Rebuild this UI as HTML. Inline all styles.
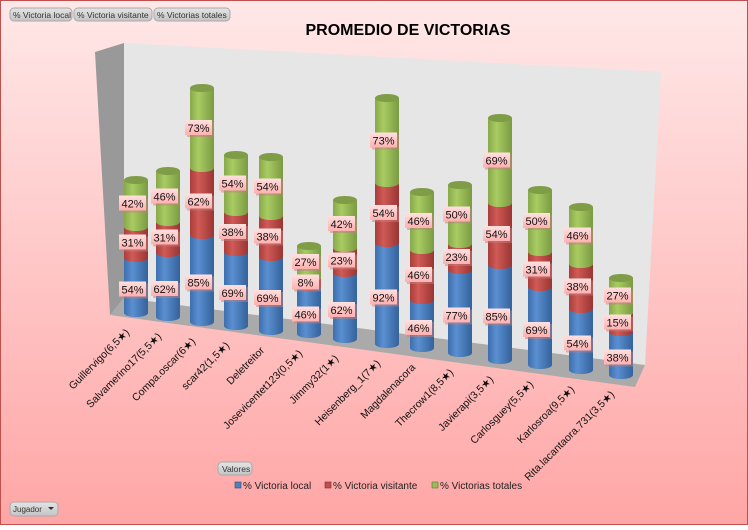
<!DOCTYPE html>
<html><head><meta charset="utf-8"><style>
body{margin:0;width:748px;height:525px;overflow:hidden;font-family:"Liberation Sans",sans-serif}
</style></head><body>
<svg width="748" height="525" xmlns="http://www.w3.org/2000/svg" font-family="Liberation Sans, sans-serif">
<defs>
<linearGradient id="bg" x1="0" y1="0" x2="0" y2="1"><stop offset="0" stop-color="#ffe8e8"/><stop offset="1" stop-color="#ffa6a6"/></linearGradient>
<linearGradient id="bb" x1="0" x2="1"><stop offset="0" stop-color="#3d6fae"/><stop offset=".35" stop-color="#5a8fd0"/><stop offset="1" stop-color="#34629c"/></linearGradient>
<linearGradient id="rr" x1="0" x2="1"><stop offset="0" stop-color="#a93d3a"/><stop offset=".35" stop-color="#d05a56"/><stop offset="1" stop-color="#9a3532"/></linearGradient>
<linearGradient id="gg" x1="0" x2="1"><stop offset="0" stop-color="#88a84a"/><stop offset=".35" stop-color="#a8cc62"/><stop offset="1" stop-color="#7b9a42"/></linearGradient>
<linearGradient id="lb" x1="0" y1="0" x2="0" y2="1"><stop offset="0" stop-color="#ffe0e0"/><stop offset="1" stop-color="#ffb0b0"/></linearGradient>
<linearGradient id="btn" x1="0" y1="0" x2="0" y2="1"><stop offset="0" stop-color="#e4e4e4"/><stop offset="1" stop-color="#c4c4c4"/></linearGradient>
</defs>
<rect x="0.5" y="0.5" width="747" height="524" fill="url(#bg)" stroke="#c0504d"/>
<!-- buttons -->
<g font-size="8.5" fill="#333">
<rect x="10" y="8" width="62" height="13" rx="4" fill="url(#btn)" stroke="#aaa"/><text x="13" y="18">% Victoria local</text>
<rect x="74" y="8" width="78" height="13" rx="4" fill="url(#btn)" stroke="#aaa"/><text x="77" y="18">% Victoria visitante</text>
<rect x="154" y="8" width="76" height="13" rx="4" fill="url(#btn)" stroke="#aaa"/><text x="157" y="18">% Victorias totales</text>
</g>
<text x="408" y="35" font-size="16" font-weight="bold" text-anchor="middle" fill="#000">PROMEDIO DE VICTORIAS</text>
<!-- walls -->
<polygon points="95,52 124,43 124,298 110,315" fill="#999"/>
<polygon points="124,43 661,72 645,365 124,298" fill="#e6e6e6"/>
<polygon points="110,315 124,298 645,365 635,387" fill="#aaa"/>
<g id="bars"></g>
<!-- legend -->
<rect x="218" y="462" width="34" height="13" rx="4" fill="url(#btn)" stroke="#aaa"/><text x="222" y="472" font-size="8.5" fill="#333">Valores</text>
<g font-size="10" fill="#222">
<rect x="235" y="482" width="6" height="6" fill="#4f81bd" stroke="#2c4d75" stroke-width=".6"/><text x="243" y="489">% Victoria local</text>
<rect x="325" y="482" width="6" height="6" fill="#c0504d" stroke="#7a2e2c" stroke-width=".6"/><text x="333" y="489">% Victoria visitante</text>
<rect x="432" y="482" width="6" height="6" fill="#9bbb59" stroke="#5c7232" stroke-width=".6"/><text x="440" y="489">% Victorias totales</text>
</g>
<rect x="10" y="502" width="48" height="14" rx="4" fill="url(#btn)" stroke="#aaa"/><text x="13" y="512" font-size="8" fill="#333">Jugador</text>
<polygon points="48,507 54,507 51,510" fill="#333"/>
</svg>
<script>
var d=[
["Guillervigo(6,5★)",136,313,258,227,180,"54%","31%","42%"],
["Salvamerino17(5,5★)",168,317,253,222,171,"62%","31%","46%"],
["Compa.oscar(6★)",202,322,235,168,88,"85%","62%","73%"],
["scar42(1,5★)",236,326,252,212,155,"69%","38%","54%"],
["Deletreitor",271,331,257,216,157,"69%","38%","54%"],
["Josevicentet123(0,5★)",309,334,287,278,246,"46%","8%","27%"],
["Jimmy32(1★)",345,339,273,248,200,"62%","23%","42%"],
["Heisenberg_1(7★)",387,344,243,183,98,"92%","54%","73%"],
["Magdalenacora",422,348,300,250,192,"46%","46%","46%"],
["Thecrow1(8,5★)",460,353,270,244,185,"77%","23%","50%"],
["Javierapi(3,5★)",500,360,265,203,118,"85%","54%","69%"],
["Carlosguey(5,5★)",540,365,287,252,190,"69%","31%","50%"],
["Karlosroa(9,5★)",581,370,309,264,207,"54%","38%","46%"],
["Rita.lacantaora.731(3,5★)",621,375,332,313,278,"38%","15%","27%"]];
var ns="http://www.w3.org/2000/svg",g=document.getElementById("bars"),s="",rx=12,ry=4;
function seg(x,y0,y1,f,top){var r='<rect x="'+(x-rx)+'" y="'+y1+'" width="'+(2*rx)+'" height="'+(y0-y1)+'" fill="url(#'+f+')"/>'+
'<ellipse cx="'+x+'" cy="'+y0+'" rx="'+rx+'" ry="'+ry+'" fill="url(#'+f+')"/>';
if(top)r+='<ellipse cx="'+x+'" cy="'+y1+'" rx="'+rx+'" ry="'+ry+'" fill="#7f9c46"/>';return r;}
function lab(x,y,t){return '<rect x="'+(x-17)+'" y="'+(y-8)+'" width="27" height="15" fill="#c08080" opacity=".5" transform="translate(2,2)"/><rect x="'+(x-17)+'" y="'+(y-8)+'" width="27" height="15" fill="url(#lb)"/><text x="'+(x-3.5)+'" y="'+(y+4)+'" font-size="11" text-anchor="middle" fill="#111">'+t+'</text>';}
d.forEach(function(b){var x=b[1];
s+=seg(x,b[2],b[3],"bb")+seg(x,b[3],b[4],"rr")+seg(x,b[4],b[5],"gg",1);});
d.forEach(function(b){var x=b[1];
s+=lab(x,(b[2]+b[3])/2+4,b[6])+lab(x,(b[3]+b[4])/2,b[7])+lab(x,(b[4]+b[5])/2,b[8]);
var tx=x-6,ty=b[2]+20;
s+='<text x="'+tx+'" y="'+ty+'" font-size="10.5" text-anchor="end" fill="#111" transform="rotate(-45 '+tx+' '+ty+')">'+b[0]+'</text>';});
g.innerHTML=s;
</script>
</body></html>
